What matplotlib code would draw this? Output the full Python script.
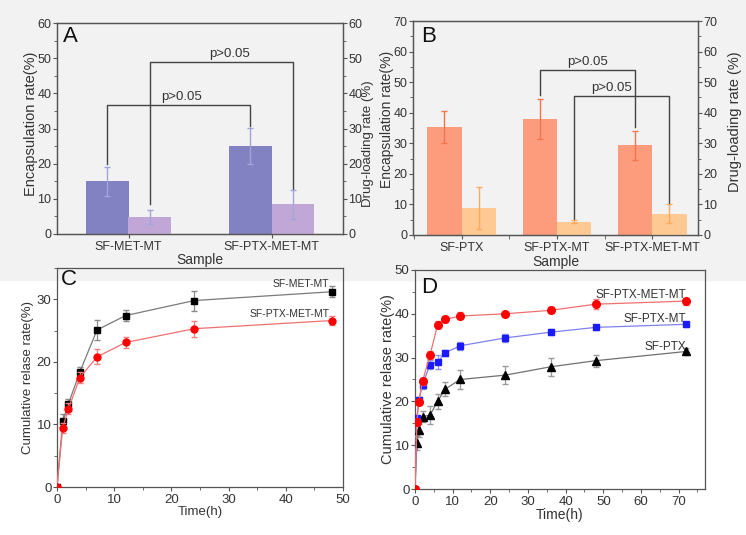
import matplotlib
matplotlib.use("Agg")
from matplotlib import pyplot as plt
from matplotlib.ticker import MultipleLocator
import numpy as np

plt.rcParams['font.family'] = ['Liberation Sans', 'DejaVu Sans']

# Panel A: encapsulation / drug loading
a_samples = ["SF-MET-MT", "SF-PTX-MET-MT"]
a_enc = [15.0, 25.0]
a_enc_err = [4.1, 5.1]
a_load = [4.9, 8.5]
a_load_err = [2.0, 4.1]

# Panel B
b_samples = ["SF-PTX", "SF-PTX-MT", "SF-PTX-MET-MT"]
b_enc = [35.3, 37.9, 29.3]
b_enc_err = [5.2, 6.6, 4.8]
b_load = [8.7, 4.4, 7.0]
b_load_err = [6.9, 0.5, 3.1]

# Panel C: release curves
c_time = [0, 1, 2, 4, 7, 12, 24, 48]
c_met = [0, 10.5, 13.3, 18.4, 25.1, 27.4, 29.8, 31.2]
c_met_err = [0, 1.2, 0.7, 0.7, 1.6, 0.9, 1.6, 0.9]
c_ptxmet = [0, 9.5, 12.5, 17.5, 20.8, 23.1, 25.3, 26.6]
c_ptxmet_err = [0, 0.8, 0.9, 0.8, 1.2, 0.9, 1.3, 0.7]

# Panel D
d_time = [0, 0.5, 1, 2, 4, 6, 8, 12, 24, 36, 48, 72]
d_ptxmet = [0, 15.3, 19.9, 24.6, 30.6, 37.5, 38.7, 39.5, 40.0, 40.8, 42.2, 42.9]
d_ptxmet_err = [0, 0.7, 0.6, 0.8, 0.9, 0.8, 0.6, 0.8, 0.5, 0.7, 1.1, 0.8]
d_ptxmt = [0, 16.1, 20.4, 23.8, 28.4, 29.0, 31.1, 32.7, 34.5, 35.8, 36.9, 37.6]
d_ptxmt_err = [0, 0.5, 0.6, 0.9, 1.0, 1.5, 0.7, 0.9, 0.9, 0.7, 0.6, 0.6]
d_ptx = [0, 10.5, 13.4, 16.5, 16.9, 20.0, 22.8, 25.0, 26.0, 27.9, 29.3, 31.4]
d_ptx_err = [0, 1.5, 1.5, 1.2, 2.0, 1.8, 1.6, 2.2, 2.0, 2.0, 1.4, 0.9]

W, H = 746, 535
fig = plt.figure(figsize=(W / 100, H / 100), dpi=100)
# light grey band behind the top row (screenshot background)
band = plt.Rectangle((0, 1 - 280 / H), 1, 280 / H, transform=fig.transFigure,
                     color="#f2f2f2", zorder=-10)
fig.add_artist(band)

def px_axes(x0, y0, x1, y1):
    return fig.add_axes([x0 / W, 1 - y1 / H, (x1 - x0) / W, (y1 - y0) / H], facecolor="none")

spine_c = "#555555"
text_c = "#333333"

def style(ax):
    for s in ax.spines.values():
        s.set_color(spine_c)
        s.set_linewidth(0.9)
    ax.tick_params(which="both", direction="out", colors=spine_c, labelcolor=text_c, labelsize=9)
    ax.tick_params(which="major", length=3, pad=1)
    ax.tick_params(which="minor", length=2)
    ax.tick_params(axis="x", pad=2)

def bracket(ax, x1, x2, y1, y2, top, label, tx):
    ax.plot([x1, x1, x2, x2], [y1, top, top, y2], color="#444444", lw=1.0, zorder=5)
    ax.text(tx, top + 0.6, label, ha="center", va="bottom", fontsize=9.5, color=text_c)

# ---------- A ----------
axA = px_axes(57, 23, 343, 234)
axA2 = axA.twinx()
xa = np.arange(1, len(a_samples) + 1)
wa = 0.3
axA.bar(xa - wa / 2, a_enc, wa, color="#8282c3", zorder=2)
axA.errorbar(xa - wa / 2, a_enc, yerr=a_enc_err, fmt="none", ecolor="#a4a4dc", elinewidth=1, capsize=2.5, zorder=3)
axA2.bar(xa + wa / 2, a_load, wa, color="#c1a7d8", zorder=2)
axA2.errorbar(xa + wa / 2, a_load, yerr=a_load_err, fmt="none", ecolor="#a4a4dc", elinewidth=1, capsize=2.5, zorder=3)
axA.set_xlim(0.5, 2.5)
axA.set_ylim(0, 60)
axA2.set_ylim(0, 60)
axA.set_xticks(xa)
axA.set_xticklabels(a_samples)
axA.yaxis.set_major_locator(MultipleLocator(10))
axA.yaxis.set_minor_locator(MultipleLocator(5))
axA2.yaxis.set_major_locator(MultipleLocator(10))
axA2.yaxis.set_minor_locator(MultipleLocator(5))
style(axA)
style(axA2)
axA.set_ylabel("Encapsulation rate(%)", fontsize=10.5, color=text_c)
axA.yaxis.set_label_coords(-0.068, 0.52)
axA2.set_ylabel("Drug-loading rate (%)", fontsize=9.5, color=text_c)
axA2.yaxis.set_label_coords(1.067, 0.43)
axA.set_xlabel("Sample", fontsize=10, color=text_c, labelpad=0)
bracket(axA, xa[0] - wa / 2, xa[1] - wa / 2, 20.0, 30.6, 36.7, "p>0.05", 1.37)
bracket(axA, xa[0] + wa / 2, xa[1] + wa / 2, 8.5, 12.8, 48.8, "p>0.05", 1.71)
axA.text(0.022, 0.985, "A", transform=axA.transAxes, fontsize=16, va="top", ha="left", color="#111111")

# ---------- B ----------
axB = px_axes(413, 21, 698, 235)
axB2 = axB.twinx()
xb = np.arange(1, len(b_samples) + 1)
wb = 0.36
axB.bar(xb - wb / 2, b_enc, wb, color="#fd9c7c", zorder=2)
axB.errorbar(xb - wb / 2, b_enc, yerr=b_enc_err, fmt="none", ecolor="#f2744f", elinewidth=1, capsize=2.5, zorder=3)
axB2.bar(xb + wb / 2, b_load, wb, color="#ffc994", zorder=2)
axB2.errorbar(xb + wb / 2, b_load, yerr=b_load_err, fmt="none", ecolor="#fcaa5c", elinewidth=1, capsize=2.5, zorder=3)
axB.set_xlim(0.49, 3.48)
axB.set_ylim(0, 70)
axB2.set_ylim(0, 70)
axB.set_xticks(xb)
axB.set_xticklabels(b_samples)
axB.xaxis.set_minor_locator(MultipleLocator(0.5))
axB.yaxis.set_major_locator(MultipleLocator(10))
axB.yaxis.set_minor_locator(MultipleLocator(5))
axB2.yaxis.set_major_locator(MultipleLocator(10))
axB2.yaxis.set_minor_locator(MultipleLocator(5))
style(axB)
style(axB2)
axB.tick_params(axis="x", which="minor", length=3)
axB.set_ylabel("Encapsulation rate(%)", fontsize=10, color=text_c)
axB.yaxis.set_label_coords(-0.066, 0.54)
axB2.set_ylabel("Drug-loading rate (%)", fontsize=10.5, color=text_c)
axB2.yaxis.set_label_coords(1.105, 0.53)
axB.set_xlabel("Sample", fontsize=10, color=text_c, labelpad=1)
bracket(axB, xb[1] - wb / 2, xb[2] - wb / 2, 45.7, 35.2, 53.9, "p>0.05", 2.32)
bracket(axB, xb[1] + wb / 2, xb[2] + wb / 2, 4.9, 10.1, 45.5, "p>0.05", 2.57)
axB.text(0.028, 0.975, "B", transform=axB.transAxes, fontsize=16, va="top", ha="left", color="#111111")

# ---------- C ----------
axC = px_axes(57, 268, 343, 487)
axC.errorbar(c_time, c_met, yerr=c_met_err, color="#7a7a7a", lw=0.9, ecolor="#8a8a8a", elinewidth=0.9,
             capsize=2, marker="s", ms=4.5, mfc="black", mec="black", zorder=3)
axC.errorbar(c_time, c_ptxmet, yerr=c_ptxmet_err, color="#f07070", lw=0.9, ecolor="#f08080", elinewidth=0.9,
             capsize=2, marker="o", ms=5, mfc="red", mec="red", zorder=4)
axC.set_xlim(0, 50)
axC.set_ylim(0, 35)
axC.xaxis.set_major_locator(MultipleLocator(10))
axC.xaxis.set_minor_locator(MultipleLocator(5))
axC.yaxis.set_major_locator(MultipleLocator(10))
axC.yaxis.set_minor_locator(MultipleLocator(5))
style(axC)
axC.tick_params(labelsize=9.5)
axC.set_xlabel("Time(h)", fontsize=9.5, color=text_c, labelpad=0)
axC.set_ylabel("Cumulative relase rate(%)", fontsize=9.5, color=text_c)
axC.yaxis.set_label_coords(-0.08, 0.5)
axC.text(47.6, 32.4, "SF-MET-MT", fontsize=7.5, ha="right", va="center", color=text_c)
axC.text(47.6, 27.7, "SF-PTX-MET-MT", fontsize=7.5, ha="right", va="center", color=text_c)
axC.text(0.015, 0.995, "C", transform=axC.transAxes, fontsize=16, va="top", ha="left", color="#111111")

# ---------- D ----------
axD = px_axes(415, 270, 705, 489)
axD.errorbar(d_time, d_ptx, yerr=d_ptx_err, color="#707070", lw=0.9, ecolor="#9a9a9a", elinewidth=0.9,
             capsize=2, marker="^", ms=5.5, mfc="black", mec="black", zorder=3)
axD.errorbar(d_time, d_ptxmt, yerr=d_ptxmt_err, color="#8080f0", lw=0.9, ecolor="#9090f0", elinewidth=0.9,
             capsize=2, marker="s", ms=5, mfc="#1a1aff", mec="#1a1aff", zorder=4)
axD.errorbar(d_time, d_ptxmet, yerr=d_ptxmet_err, color="#f07070", lw=0.9, ecolor="#f08080", elinewidth=0.9,
             capsize=2, marker="o", ms=5.5, mfc="red", mec="red", zorder=5)
axD.set_xlim(0, 77)
axD.set_ylim(0, 50)
axD.xaxis.set_major_locator(MultipleLocator(10))
axD.xaxis.set_minor_locator(MultipleLocator(5))
axD.yaxis.set_major_locator(MultipleLocator(10))
axD.yaxis.set_minor_locator(MultipleLocator(5))
style(axD)
axD.tick_params(labelsize=9.5)
axD.set_xlabel("Time(h)", fontsize=10, color=text_c, labelpad=0)
axD.set_ylabel("Cumulative relase rate(%)", fontsize=10.5, color=text_c)
axD.yaxis.set_label_coords(-0.07, 0.5)
axD.text(72.0, 44.2, "SF-PTX-MET-MT", fontsize=8.5, ha="right", va="center", color=text_c)
axD.text(72.0, 38.7, "SF-PTX-MT", fontsize=8.5, ha="right", va="center", color=text_c)
axD.text(72.0, 32.4, "SF-PTX", fontsize=8.5, ha="right", va="center", color=text_c)
axD.text(0.02, 0.97, "D", transform=axD.transAxes, fontsize=16, va="top", ha="left", color="#111111")

fig.savefig("out.png", dpi=100)
